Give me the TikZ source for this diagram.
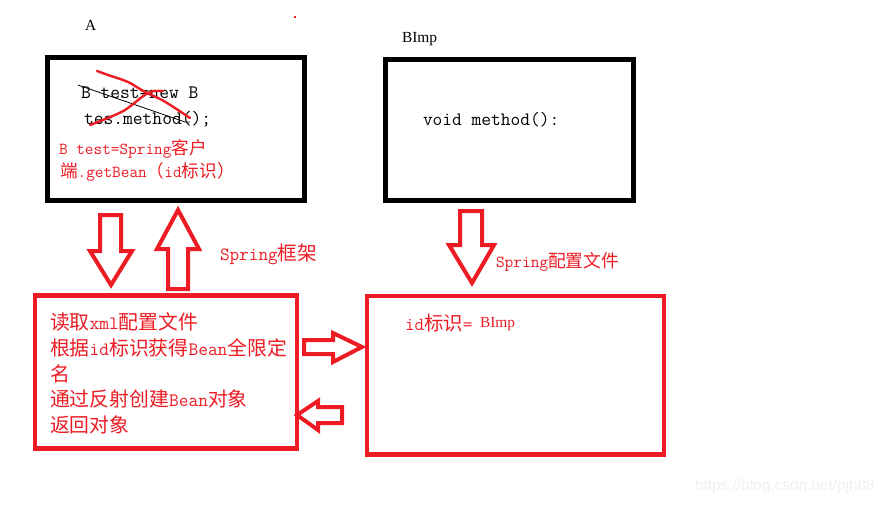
\documentclass[tikz,border=0pt]{standalone}
\usepackage{fontspec}
\newfontfamily\cjk[Scale=1.05]{Noto Sans CJK SC}
\newfontfamily\serifA{Liberation Serif}
\newfontfamily\wmfont{Liberation Sans}
\newcommand\zh[1]{{\cjk #1}}
\definecolor{pred}{RGB}{237,28,36}
\begin{document}
\begin{tikzpicture}[x=1pt,y=-1pt,
  blackbox/.style={draw=black,line width=5pt,minimum width=#1,inner sep=0pt,outer sep=0pt},
  redbox/.style={draw=pred,line width=4.4pt,inner sep=0pt,outer sep=0pt},
  blockarrow/.style={draw=pred,line width=4pt,line join=miter},
  lbl/.style={anchor=base west,inner sep=0pt,outer sep=0pt},
  monoA/.style={lbl,font=\ttfamily\fontsize{19}{22}\selectfont},
  redA/.style={lbl,text=pred,font=\ttfamily\fontsize{16.8}{20}\selectfont},
  redB/.style={lbl,text=pred,font=\ttfamily\fontsize{18.9}{22}\selectfont},
  serifL/.style={lbl,font=\serifA\fontsize{15.4}{18}\selectfont}]
\useasboundingbox (0,0) rectangle (888,505);
\fill[white] (0,0) rectangle (888,505);

% boxes
\node[blackbox=256.5pt,minimum height=142.5pt] (boxA) at (175.75,128.75) {};
\node[blackbox=247.5pt,minimum height=140.5pt] (boxB) at (509.25,129.75) {};
\node[redbox,minimum width=262pt,minimum height=153pt] (spring) at (166,372) {};
\node[redbox,minimum width=297pt,minimum height=158.5pt] (conf) at (515.5,375.25) {};

% titles
\node[serifL] (tA) at (85,31) {A};
\node[serifL] (tB) at (402,43) {BImp};
\fill[pred] (294,16) rectangle (296,18);

% box A content
\node[monoA] (l1) at (81,99) {B test=new B};
\node[monoA] (l2) at (84,125) {tes.method();};
\draw[black,line width=0.8pt] (78,85) -- (185,122) -- (190,122);
\draw[pred,line width=2.4pt,line cap=round] plot[smooth] coordinates {(97,71) (108,75) (128,82) (145,92) (162,100) (178,110) (190,118)};
\draw[pred,line width=2.4pt,line cap=round] plot[smooth] coordinates {(90,125) (108,118) (125,110) (142,97) (150,92) (156,91) (163,91)};
\node[redA] (r1) at (59,155) {B test=Spring\zh{客户}};
\node[redA] (r2) at (60,178) {\zh{端}.getBean\zh{（}id\zh{标识）}};

% box B content
\node[monoA,font=\ttfamily\fontsize{18.9}{22}\selectfont] (vm) at (423,126) {void method():};

% spring box content
\node[redB] (s1) at (50,329) {\zh{读取}xml\zh{配置文件}};
\node[redB] (s2) at (50,355) {\zh{根据}id\zh{标识获得}Bean\zh{全限定}};
\node[redB] (s3) at (50,381) {\zh{名}};
\node[redB] (s4) at (50,406.5) {\zh{通过反射创建}Bean\zh{对象}};
\node[redB] (s5) at (50,432) {\zh{返回对象}};

% conf box content
\node[redB,font=\ttfamily\fontsize{18.5}{22}\selectfont] (c1) at (405,330) {id\zh{标识}=};
\node[serifL,text=pred] (c2) at (480,327) {BImp};

% labels
\node[redB,font=\ttfamily\fontsize{18.7}{22}\selectfont] (fw) at (220,260) {Spring\zh{框架}};
\node[redA,font=\ttfamily\fontsize{16.9}{20}\selectfont] (cf) at (496,267) {Spring\zh{配置文件}};

% block arrows
\draw[blockarrow] (100,215) -- (121,215) -- (121,251) -- (132,251) -- (111,285) -- (90,251) -- (100,251) -- cycle;
\draw[blockarrow] (168,289) -- (188,289) -- (188,249) -- (199,249) -- (178,210) -- (157,249) -- (168,249) -- cycle;
\draw[blockarrow] (460,211) -- (482,211) -- (482,245) -- (494,245) -- (472,283) -- (449,245) -- (460,245) -- cycle;
\draw[blockarrow] (304,340) -- (333,340) -- (333,333) -- (362,347) -- (333,362) -- (333,354) -- (304,354) -- cycle;
\draw[blockarrow] (342,407) -- (318,407) -- (318,401) -- (297,415) -- (318,430) -- (318,423) -- (342,423) -- cycle;

% watermark
\node[lbl,text=black!6,font=\wmfont\fontsize{15.4}{18}\selectfont] (wm) at (695,490) {https://blog.csdn.net/pjh88};
\end{tikzpicture}
\end{document}
